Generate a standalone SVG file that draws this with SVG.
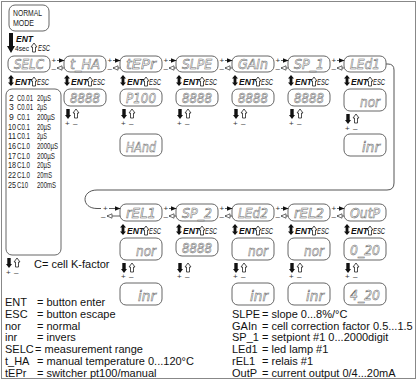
<svg xmlns="http://www.w3.org/2000/svg" width="417" height="380" viewBox="0 0 417 380">
<style>
.box{fill:#fff;stroke:#666;stroke-width:1}
.seg{font-family:"DejaVu Sans",sans-serif;font-style:italic;font-size:14px;fill:#fff;stroke:#6a6a6a;stroke-width:0.55}
.lbl{font-family:"Liberation Sans",Arial,sans-serif;font-style:italic;font-weight:bold;font-size:8.5px;fill:#111}
.esc{font-family:"Liberation Sans",Arial,sans-serif;font-style:italic;font-size:8.5px;fill:#111}
.nm{font-family:"Liberation Sans",Arial,sans-serif;font-size:9.5px;fill:#222}
.sm{font-family:"Liberation Sans",Arial,sans-serif;font-size:8px;fill:#333}
.tb{font-family:"Liberation Sans",Arial,sans-serif;font-size:8.6px;fill:#222}
.lg{font-family:"Liberation Sans",Arial,sans-serif;font-size:11px;fill:#111}
.ln{fill:none;stroke:#333;stroke-width:0.8}
.loop{fill:none;stroke:#555;stroke-width:1}
</style>
<defs>
<marker id="fa" markerWidth="6" markerHeight="6" refX="5.5" refY="3" orient="auto" markerUnits="userSpaceOnUse"><path d="M0,0.5 L6,3 L0,5.5 Z" fill="#111"/></marker>
<marker id="ha" markerWidth="6" markerHeight="6" refX="5.5" refY="3" orient="auto" markerUnits="userSpaceOnUse"><path d="M0.5,0.8 L5.5,3 L0.5,5.2 Z" fill="#fff" stroke="#333" stroke-width="0.7"/></marker>
<path id="dn" d="M1.3,0 H4.7 V6 H6 L3,10 L0,6 H1.3 Z" fill="#111"/>
<path id="up" d="M3,0 L6,4 H4.5 V9 H1.5 V4 H0 Z" fill="#fff" stroke="#222" stroke-width="0.8"/>
<path id="ud" d="M3,0 L6,3.5 H4.4 V7.5 H6 L3,11 L0,7.5 H1.6 V3.5 H0 Z" fill="#111"/>
</defs>
<rect x="1.5" y="1.5" width="414" height="377" fill="#fff" stroke="#888" stroke-width="1"/>

<g id="normal-mode">
<rect class="box" x="9" y="5" width="40" height="26" rx="6"/>
<text class="nm" x="13" y="16" textLength="29" lengthAdjust="spacingAndGlyphs">NORMAL</text>
<text class="nm" x="13" y="26" textLength="21" lengthAdjust="spacingAndGlyphs">MODE</text>
<path d="M9,33 H13 V46 H15 L11,53 L7,46 H9 Z" fill="#111"/>
<text class="lbl" x="16" y="42">ENT</text>
<text class="esc" style="font-style:normal;font-size:7px" x="15" y="51" textLength="14" lengthAdjust="spacingAndGlyphs">4sec</text>
<use href="#up" x="31" y="43"/>
<text class="esc" x="38" y="51" textLength="12" lengthAdjust="spacingAndGlyphs">ESC</text>
</g>

<!-- Row 1 headers -->
<g id="selc"><rect class="box" x="8" y="56" width="42" height="16" rx="6"/><text class="seg" x="29" y="69" text-anchor="middle" textLength="30" lengthAdjust="spacingAndGlyphs">SELC</text>
<use href="#ud" x="8" y="75"/><text class="lbl" x="15" y="85">ENT</text><use href="#up" x="31" y="77"/><text class="esc" x="37" y="85" textLength="12" lengthAdjust="spacingAndGlyphs">ESC</text></g>
<g id="t_ha"><rect class="box" x="64" y="56" width="42" height="16" rx="6"/><text class="seg" x="85" y="69" text-anchor="middle" textLength="30" lengthAdjust="spacingAndGlyphs">t_HA</text>
<use href="#ud" x="64" y="75"/><text class="lbl" x="71" y="85">ENT</text><use href="#up" x="87" y="77"/><text class="esc" x="93" y="85" textLength="12" lengthAdjust="spacingAndGlyphs">ESC</text></g>
<g id="tepr"><rect class="box" x="120" y="56" width="42" height="16" rx="6"/><text class="seg" x="141" y="69" text-anchor="middle" textLength="30" lengthAdjust="spacingAndGlyphs">tEPr</text>
<use href="#ud" x="120" y="75"/><text class="lbl" x="127" y="85">ENT</text><use href="#up" x="143" y="77"/><text class="esc" x="149" y="85" textLength="12" lengthAdjust="spacingAndGlyphs">ESC</text></g>
<g id="slpe"><rect class="box" x="176" y="56" width="42" height="16" rx="6"/><text class="seg" x="197" y="69" text-anchor="middle" textLength="30" lengthAdjust="spacingAndGlyphs">SLPE</text>
<use href="#ud" x="176" y="75"/><text class="lbl" x="183" y="85">ENT</text><use href="#up" x="199" y="77"/><text class="esc" x="205" y="85" textLength="12" lengthAdjust="spacingAndGlyphs">ESC</text></g>
<g id="gain"><rect class="box" x="232" y="56" width="42" height="16" rx="6"/><text class="seg" x="253" y="69" text-anchor="middle" textLength="30" lengthAdjust="spacingAndGlyphs">GAIn</text>
<use href="#ud" x="232" y="75"/><text class="lbl" x="239" y="85">ENT</text><use href="#up" x="255" y="77"/><text class="esc" x="261" y="85" textLength="12" lengthAdjust="spacingAndGlyphs">ESC</text></g>
<g id="sp_1"><rect class="box" x="288" y="56" width="42" height="16" rx="6"/><text class="seg" x="309" y="69" text-anchor="middle" textLength="30" lengthAdjust="spacingAndGlyphs">SP_1</text>
<use href="#ud" x="288" y="75"/><text class="lbl" x="295" y="85">ENT</text><use href="#up" x="311" y="77"/><text class="esc" x="317" y="85" textLength="12" lengthAdjust="spacingAndGlyphs">ESC</text></g>
<g id="led1"><rect class="box" x="344" y="56" width="42" height="16" rx="6"/><text class="seg" x="365" y="69" text-anchor="middle" textLength="30" lengthAdjust="spacingAndGlyphs">LEd1</text>
<use href="#ud" x="344" y="75"/><text class="lbl" x="351" y="85">ENT</text><use href="#up" x="367" y="77"/><text class="esc" x="373" y="85" textLength="12" lengthAdjust="spacingAndGlyphs">ESC</text></g>

<!-- Row 2 values -->
<g id="selc-table">
<rect class="box" x="6" y="89" width="55" height="166" rx="6"/>
<g class="tb">
<text x="9" y="100.5">2</text><text x="17" y="100.5" textLength="16" lengthAdjust="spacingAndGlyphs">C0.01</text><text x="37" y="100.5" textLength="14" lengthAdjust="spacingAndGlyphs">20µS</text>
<text x="9" y="110.2">3</text><text x="17" y="110.2" textLength="16" lengthAdjust="spacingAndGlyphs">C0.01</text><text x="37" y="110.2" textLength="10" lengthAdjust="spacingAndGlyphs">2µS</text>
<text x="9" y="119.9">9</text><text x="17" y="119.9" textLength="13" lengthAdjust="spacingAndGlyphs">C0.1</text><text x="37" y="119.9" textLength="18" lengthAdjust="spacingAndGlyphs">200µS</text>
<text x="8" y="129.6" textLength="8" lengthAdjust="spacingAndGlyphs">10</text><text x="17" y="129.6" textLength="13" lengthAdjust="spacingAndGlyphs">C0.1</text><text x="37" y="129.6" textLength="14" lengthAdjust="spacingAndGlyphs">20µS</text>
<text x="8" y="139.3" textLength="8" lengthAdjust="spacingAndGlyphs">11</text><text x="17" y="139.3" textLength="13" lengthAdjust="spacingAndGlyphs">C0.1</text><text x="37" y="139.3" textLength="10" lengthAdjust="spacingAndGlyphs">2µS</text>
<text x="8" y="149" textLength="8" lengthAdjust="spacingAndGlyphs">16</text><text x="17" y="149" textLength="13" lengthAdjust="spacingAndGlyphs">C1.0</text><text x="37" y="149" textLength="21" lengthAdjust="spacingAndGlyphs">2000µS</text>
<text x="8" y="158.7" textLength="8" lengthAdjust="spacingAndGlyphs">17</text><text x="17" y="158.7" textLength="13" lengthAdjust="spacingAndGlyphs">C1.0</text><text x="37" y="158.7" textLength="18" lengthAdjust="spacingAndGlyphs">200µS</text>
<text x="8" y="168.4" textLength="8" lengthAdjust="spacingAndGlyphs">18</text><text x="17" y="168.4" textLength="13" lengthAdjust="spacingAndGlyphs">C1.0</text><text x="37" y="168.4" textLength="14" lengthAdjust="spacingAndGlyphs">20µS</text>
<text x="8" y="178.1" textLength="8" lengthAdjust="spacingAndGlyphs">22</text><text x="17" y="178.1" textLength="13" lengthAdjust="spacingAndGlyphs">C1.0</text><text x="37" y="178.1" textLength="15" lengthAdjust="spacingAndGlyphs">20mS</text>
<text x="8" y="187.8" textLength="8" lengthAdjust="spacingAndGlyphs">25</text><text x="17" y="187.8" textLength="11" lengthAdjust="spacingAndGlyphs">C10</text><text x="37" y="187.8" textLength="19" lengthAdjust="spacingAndGlyphs">200mS</text>
</g>
<use href="#dn" x="6" y="258"/><use href="#up" x="14" y="258"/>
<text class="sm" x="6" y="275">+</text><text class="sm" x="14" y="275">–</text>
<text class="lg" x="34" y="268">C= cell K-factor</text>
</g>
<g id="t_ha-val"><rect class="box" x="64" y="89" width="42" height="17" rx="6"/><text class="seg" x="85" y="103" text-anchor="middle" textLength="30" lengthAdjust="spacingAndGlyphs">8888</text>
<use href="#dn" x="65" y="109"/><use href="#up" x="73" y="109"/><text class="sm" x="65" y="126">+</text><text class="sm" x="73" y="126">–</text></g>
<g id="tepr-p100"><rect class="box" x="120" y="89" width="42" height="17" rx="6"/><text class="seg" x="141" y="103" text-anchor="middle" textLength="30" lengthAdjust="spacingAndGlyphs">P100</text>
<use href="#dn" x="121" y="109"/><use href="#up" x="129" y="109"/><text class="sm" x="121" y="126">+</text><text class="sm" x="129" y="126">–</text></g>
<g id="tepr-hand"><rect class="box" x="120" y="134" width="42" height="22" rx="6"/><text class="seg" x="141" y="152" text-anchor="middle" textLength="30" lengthAdjust="spacingAndGlyphs">HAnd</text></g>
<g id="slpe-val"><rect class="box" x="176" y="89" width="42" height="17" rx="6"/><text class="seg" x="197" y="103" text-anchor="middle" textLength="30" lengthAdjust="spacingAndGlyphs">8888</text>
<use href="#dn" x="177" y="109"/><use href="#up" x="185" y="109"/><text class="sm" x="177" y="126">+</text><text class="sm" x="185" y="126">–</text></g>
<g id="gain-val"><rect class="box" x="232" y="89" width="42" height="17" rx="6"/><text class="seg" x="253" y="103" text-anchor="middle" textLength="30" lengthAdjust="spacingAndGlyphs">8888</text>
<use href="#dn" x="233" y="109"/><use href="#up" x="241" y="109"/><text class="sm" x="233" y="126">+</text><text class="sm" x="241" y="126">–</text></g>
<g id="sp_1-val"><rect class="box" x="288" y="89" width="42" height="17" rx="6"/><text class="seg" x="309" y="103" text-anchor="middle" textLength="30" lengthAdjust="spacingAndGlyphs">8888</text>
<use href="#dn" x="289" y="109"/><use href="#up" x="297" y="109"/><text class="sm" x="289" y="126">+</text><text class="sm" x="297" y="126">–</text></g>
<g id="led1-nor"><rect class="box" x="344" y="89" width="42" height="22" rx="6"/><text class="seg" x="380" y="107" text-anchor="end" textLength="20" lengthAdjust="spacingAndGlyphs">nor</text>
<use href="#dn" x="345" y="114"/><use href="#up" x="353" y="114"/><text class="sm" x="345" y="131">+</text><text class="sm" x="353" y="131">–</text></g>
<g id="led1-inr"><rect class="box" x="344" y="134" width="42" height="22" rx="6"/><text class="seg" x="380" y="152" text-anchor="end" textLength="18" lengthAdjust="spacingAndGlyphs">inr</text></g>

<!-- Row 4 headers -->
<g id="rel1"><rect class="box" x="120" y="204" width="42" height="17" rx="6"/><text class="seg" x="141" y="218" text-anchor="middle" textLength="30" lengthAdjust="spacingAndGlyphs">rEL1</text>
<use href="#ud" x="120" y="224"/><text class="lbl" x="127" y="234">ENT</text><use href="#up" x="143" y="226"/><text class="esc" x="149" y="234" textLength="12" lengthAdjust="spacingAndGlyphs">ESC</text></g>
<g id="sp_2"><rect class="box" x="176" y="204" width="42" height="17" rx="6"/><text class="seg" x="197" y="218" text-anchor="middle" textLength="30" lengthAdjust="spacingAndGlyphs">SP_2</text>
<use href="#ud" x="176" y="224"/><text class="lbl" x="183" y="234">ENT</text><use href="#up" x="199" y="226"/><text class="esc" x="205" y="234" textLength="12" lengthAdjust="spacingAndGlyphs">ESC</text></g>
<g id="led2"><rect class="box" x="232" y="204" width="42" height="17" rx="6"/><text class="seg" x="253" y="218" text-anchor="middle" textLength="30" lengthAdjust="spacingAndGlyphs">LEd2</text>
<use href="#ud" x="232" y="224"/><text class="lbl" x="239" y="234">ENT</text><use href="#up" x="255" y="226"/><text class="esc" x="261" y="234" textLength="12" lengthAdjust="spacingAndGlyphs">ESC</text></g>
<g id="rel2"><rect class="box" x="288" y="204" width="42" height="17" rx="6"/><text class="seg" x="309" y="218" text-anchor="middle" textLength="30" lengthAdjust="spacingAndGlyphs">rEL2</text>
<use href="#ud" x="288" y="224"/><text class="lbl" x="295" y="234">ENT</text><use href="#up" x="311" y="226"/><text class="esc" x="317" y="234" textLength="12" lengthAdjust="spacingAndGlyphs">ESC</text></g>
<g id="outp"><rect class="box" x="344" y="204" width="42" height="17" rx="6"/><text class="seg" x="365" y="218" text-anchor="middle" textLength="30" lengthAdjust="spacingAndGlyphs">OutP</text>
<use href="#ud" x="344" y="224"/><text class="lbl" x="351" y="234">ENT</text><use href="#up" x="367" y="226"/><text class="esc" x="373" y="234" textLength="12" lengthAdjust="spacingAndGlyphs">ESC</text></g>

<!-- Row 5/6 values -->
<g id="rel1-nor"><rect class="box" x="120" y="238" width="42" height="22" rx="6"/><text class="seg" x="156" y="256" text-anchor="end" textLength="20" lengthAdjust="spacingAndGlyphs">nor</text>
<use href="#dn" x="121" y="263"/><use href="#up" x="129" y="263"/><text class="sm" x="121" y="279">+</text><text class="sm" x="129" y="279">–</text></g>
<g id="rel1-inr"><rect class="box" x="120" y="283" width="42" height="22" rx="6"/><text class="seg" x="156" y="301" text-anchor="end" textLength="18" lengthAdjust="spacingAndGlyphs">inr</text></g>
<g id="sp_2-val"><rect class="box" x="176" y="238" width="42" height="18" rx="6"/><text class="seg" x="197" y="253" text-anchor="middle" textLength="30" lengthAdjust="spacingAndGlyphs">8888</text>
<use href="#dn" x="177" y="263"/><use href="#up" x="185" y="263"/><text class="sm" x="177" y="279">+</text><text class="sm" x="185" y="279">–</text></g>
<g id="led2-nor"><rect class="box" x="232" y="238" width="42" height="22" rx="6"/><text class="seg" x="268" y="256" text-anchor="end" textLength="20" lengthAdjust="spacingAndGlyphs">nor</text>
<use href="#dn" x="233" y="263"/><use href="#up" x="241" y="263"/><text class="sm" x="233" y="279">+</text><text class="sm" x="241" y="279">–</text></g>
<g id="led2-inr"><rect class="box" x="232" y="283" width="42" height="22" rx="6"/><text class="seg" x="268" y="301" text-anchor="end" textLength="18" lengthAdjust="spacingAndGlyphs">inr</text></g>
<g id="rel2-nor"><rect class="box" x="288" y="238" width="42" height="22" rx="6"/><text class="seg" x="324" y="256" text-anchor="end" textLength="20" lengthAdjust="spacingAndGlyphs">nor</text>
<use href="#dn" x="289" y="263"/><use href="#up" x="297" y="263"/><text class="sm" x="289" y="279">+</text><text class="sm" x="297" y="279">–</text></g>
<g id="rel2-inr"><rect class="box" x="288" y="283" width="42" height="22" rx="6"/><text class="seg" x="324" y="301" text-anchor="end" textLength="18" lengthAdjust="spacingAndGlyphs">inr</text></g>
<g id="outp-0_20"><rect class="box" x="344" y="238" width="42" height="22" rx="6"/><text class="seg" x="365" y="255" text-anchor="middle" textLength="30" lengthAdjust="spacingAndGlyphs">0_20</text>
<use href="#dn" x="345" y="263"/><use href="#up" x="353" y="263"/><text class="sm" x="345" y="279">+</text><text class="sm" x="353" y="279">–</text></g>
<g id="outp-4_20"><rect class="box" x="344" y="283" width="42" height="22" rx="6"/><text class="seg" x="365" y="300" text-anchor="middle" textLength="30" lengthAdjust="spacingAndGlyphs">4_20</text></g>

<!-- Connectors -->
<g id="connectors">
<g class="sm">
<text x="51.5" y="63">+</text><text x="51.5" y="71">–</text>
<text x="107.5" y="63">+</text><text x="107.5" y="71">–</text>
<text x="163.5" y="63">+</text><text x="163.5" y="71">–</text>
<text x="219.5" y="63">+</text><text x="219.5" y="71">–</text>
<text x="275.5" y="63">+</text><text x="275.5" y="71">–</text>
<text x="331.5" y="63">+</text><text x="331.5" y="71">–</text>
<text x="103" y="211">+</text><text x="101" y="219">–</text>
<text x="163.5" y="211">+</text><text x="163.5" y="219">–</text>
<text x="219.5" y="211">+</text><text x="219.5" y="219">–</text>
<text x="275.5" y="211">+</text><text x="275.5" y="219">–</text>
<text x="331.5" y="211">+</text><text x="331.5" y="219">–</text>
</g>
<g class="ln">
<line x1="57" y1="60.5" x2="64" y2="60.5" marker-end="url(#fa)"/><line x1="64" y1="68" x2="57" y2="68" marker-end="url(#ha)"/>
<line x1="113" y1="60.5" x2="120" y2="60.5" marker-end="url(#fa)"/><line x1="120" y1="68" x2="113" y2="68" marker-end="url(#ha)"/>
<line x1="169" y1="60.5" x2="176" y2="60.5" marker-end="url(#fa)"/><line x1="176" y1="68" x2="169" y2="68" marker-end="url(#ha)"/>
<line x1="225" y1="60.5" x2="232" y2="60.5" marker-end="url(#fa)"/><line x1="232" y1="68" x2="225" y2="68" marker-end="url(#ha)"/>
<line x1="281" y1="60.5" x2="288" y2="60.5" marker-end="url(#fa)"/><line x1="288" y1="68" x2="281" y2="68" marker-end="url(#ha)"/>
<line x1="337" y1="60.5" x2="344" y2="60.5" marker-end="url(#fa)"/><line x1="344" y1="68" x2="337" y2="68" marker-end="url(#ha)"/>
<line x1="109" y1="208.5" x2="120" y2="208.5" marker-end="url(#fa)"/><line x1="120" y1="216" x2="107" y2="216" marker-end="url(#ha)"/>
<line x1="169" y1="208.5" x2="176" y2="208.5" marker-end="url(#fa)"/><line x1="176" y1="216" x2="169" y2="216" marker-end="url(#ha)"/>
<line x1="225" y1="208.5" x2="232" y2="208.5" marker-end="url(#fa)"/><line x1="232" y1="216" x2="225" y2="216" marker-end="url(#ha)"/>
<line x1="281" y1="208.5" x2="288" y2="208.5" marker-end="url(#fa)"/><line x1="288" y1="216" x2="281" y2="216" marker-end="url(#ha)"/>
<line x1="337" y1="208.5" x2="344" y2="208.5" marker-end="url(#fa)"/><line x1="344" y1="216" x2="337" y2="216" marker-end="url(#ha)"/>
</g>
<path class="loop" d="M386,64 H388 Q394,64 394,70 V183 Q394,190 387,190 H97 C81,190 81,208.5 97,208.5 H101"/>
</g>

<!-- Legend -->
<g id="legend" class="lg">
<text x="5" y="306">ENT</text><text x="37" y="306">= button enter</text>
<text x="5" y="317.8">ESC</text><text x="37" y="317.8">= button escape</text>
<text x="5" y="329.6">nor</text><text x="37" y="329.6">= normal</text>
<text x="5" y="341.4">inr</text><text x="37" y="341.4">= invers</text>
<text x="5" y="353.2">SELC</text><text x="35" y="353.2">= measurement range</text>
<text x="5" y="365">t_HA</text><text x="37" y="365">= manual temperature 0...120°C</text>
<text x="5" y="376.8">tEPr</text><text x="37" y="376.8">= switcher pt100/manual</text>
<text x="232" y="317.8">SLPE</text><text x="262" y="317.8">= slope 0...8%/°C</text>
<text x="232" y="329.6">GAIn</text><text x="262" y="329.6">= cell correction factor 0.5...1.5</text>
<text x="232" y="341.4">SP_1</text><text x="262" y="341.4">= setpiont #1 0...2000digit</text>
<text x="232" y="353.2">LEd1</text><text x="262" y="353.2">= led lamp #1</text>
<text x="232" y="365">rEL1</text><text x="262" y="365">= relais #1</text>
<text x="232" y="376.8">OutP</text><text x="262" y="376.8">= current output 0/4...20mA</text>
</g>
</svg>
